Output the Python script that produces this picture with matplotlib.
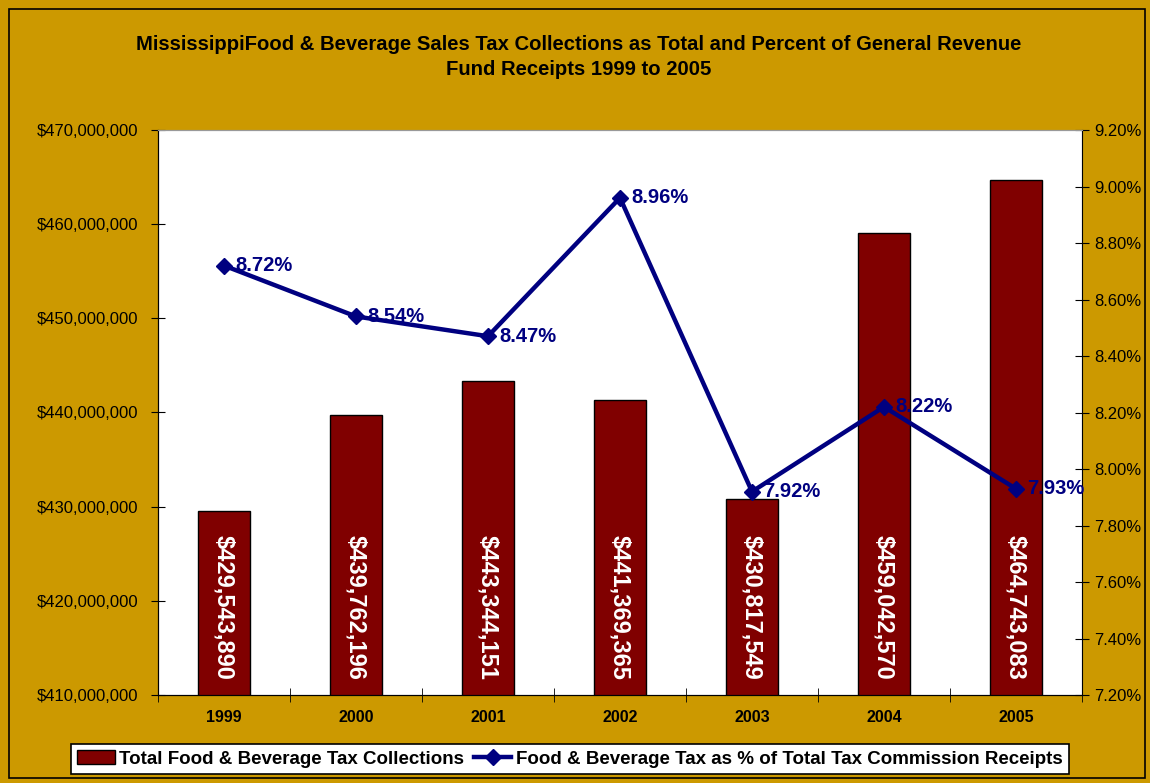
import matplotlib
matplotlib.use("Agg")
import matplotlib.pyplot as plt
from matplotlib.lines import Line2D
from matplotlib.patches import Patch
from matplotlib.ticker import FuncFormatter, FixedLocator, NullFormatter

plt.rcParams['font.family'] = ['Liberation Sans', 'DejaVu Sans']

years = ['1999', '2000', '2001', '2002', '2003', '2004', '2005']
collections = [429543890, 439762196, 443344151, 441369365, 430817549, 459042570, 464743083]
pct_of_receipts = [8.72, 8.54, 8.47, 8.96, 7.92, 8.22, 7.93]

gold = '#CC9900'
bar_red = '#800000'
navy = '#000080'

fig = plt.figure(figsize=(11.5, 7.83), dpi=100, facecolor=gold)
# thin frame around the whole chart area
fig.patches.append(plt.Rectangle((9 / 1150, 5 / 783), 1136 / 1150, 769 / 783,
                                 transform=fig.transFigure, fill=False,
                                 edgecolor='black', linewidth=1.2))

ax = fig.add_axes([158 / 1150, 1 - 695 / 783, 924 / 1150, 565 / 783])
ax.set_facecolor('white')
x = list(range(len(years)))
ax.bar(x, collections, width=0.4, color=bar_red, edgecolor='black', linewidth=1, zorder=2)
ax.set_xlim(-0.5, len(years) - 0.5)
ax.set_ylim(410000000, 470000000)
ax.set_yticks(range(410000000, 470000001, 10000000))
ax.yaxis.set_major_formatter(FuncFormatter(lambda v, p: '${:,.0f}'.format(v)))
ax.tick_params(axis='y', direction='inout', length=10, labelsize=12, pad=9)

ax.set_xticks(x)
ax.set_xticklabels(years, fontweight='bold', fontsize=11.5)
ax.tick_params(axis='x', which='major', length=0, pad=11)
ax.xaxis.set_minor_locator(FixedLocator([i - 0.5 for i in range(len(years) + 1)]))
ax.xaxis.set_minor_formatter(NullFormatter())
ax.tick_params(axis='x', which='minor', direction='inout', length=10)

for s in ['top', 'right']:
    ax.spines[s].set_color('#999999')

# values written up the inside of each bar
for xi, v in zip(x, collections):
    ax.text(xi, 0.027, '${:,.0f}'.format(v), transform=ax.get_xaxis_transform(),
            rotation=-90, ha='center', va='bottom', color='white',
            fontsize=17, fontweight='bold', zorder=3)

ax2 = ax.twinx()
ax2.set_ylim(7.2, 9.2)
ax2.set_yticks([7.2 + 0.2 * i for i in range(11)])
ax2.yaxis.set_major_formatter(FuncFormatter(lambda v, p: '{:.2f}%'.format(v)))
ax2.tick_params(axis='y', direction='inout', length=10, labelsize=12, pad=4)
ax2.spines['top'].set_color('#999999')
ax2.plot(x, pct_of_receipts, color=navy, linewidth=3.2, marker='D', markersize=8,
         zorder=4)
for xi, p in zip(x, pct_of_receipts):
    ax2.annotate('{:.2f}%'.format(p), (xi, p), xytext=(8, 0), textcoords='offset points',
                 ha='left', va='center', color=navy, fontsize=14.5, fontweight='bold')

fig.text(0.503, 0.927,
         'MississippiFood & Beverage Sales Tax Collections as Total and Percent of General Revenue\n'
         'Fund Receipts 1999 to 2005',
         ha='center', va='center', fontsize=14.6, fontweight='bold', linespacing=1.4)

handles = [Patch(facecolor=bar_red, edgecolor='black', linewidth=1),
           Line2D([], [], color=navy, linewidth=3.2, marker='D', markersize=8)]
labels = ['Total Food & Beverage Tax Collections',
          'Food & Beverage Tax as % of Total Tax Commission Receipts']
leg = fig.legend(handles, labels, loc='center', bbox_to_anchor=(570 / 1150, 1 - 759 / 783),
                 ncol=2, frameon=True, fancybox=False, edgecolor='black', framealpha=1,
                 prop={'weight': 'bold', 'size': 13.5},
                 handlelength=2.0, handletextpad=0.25, columnspacing=0.5,
                 borderpad=0.35)
leg.get_frame().set_linewidth(1.2)

fig.savefig('out.png', dpi=100, facecolor=gold)
